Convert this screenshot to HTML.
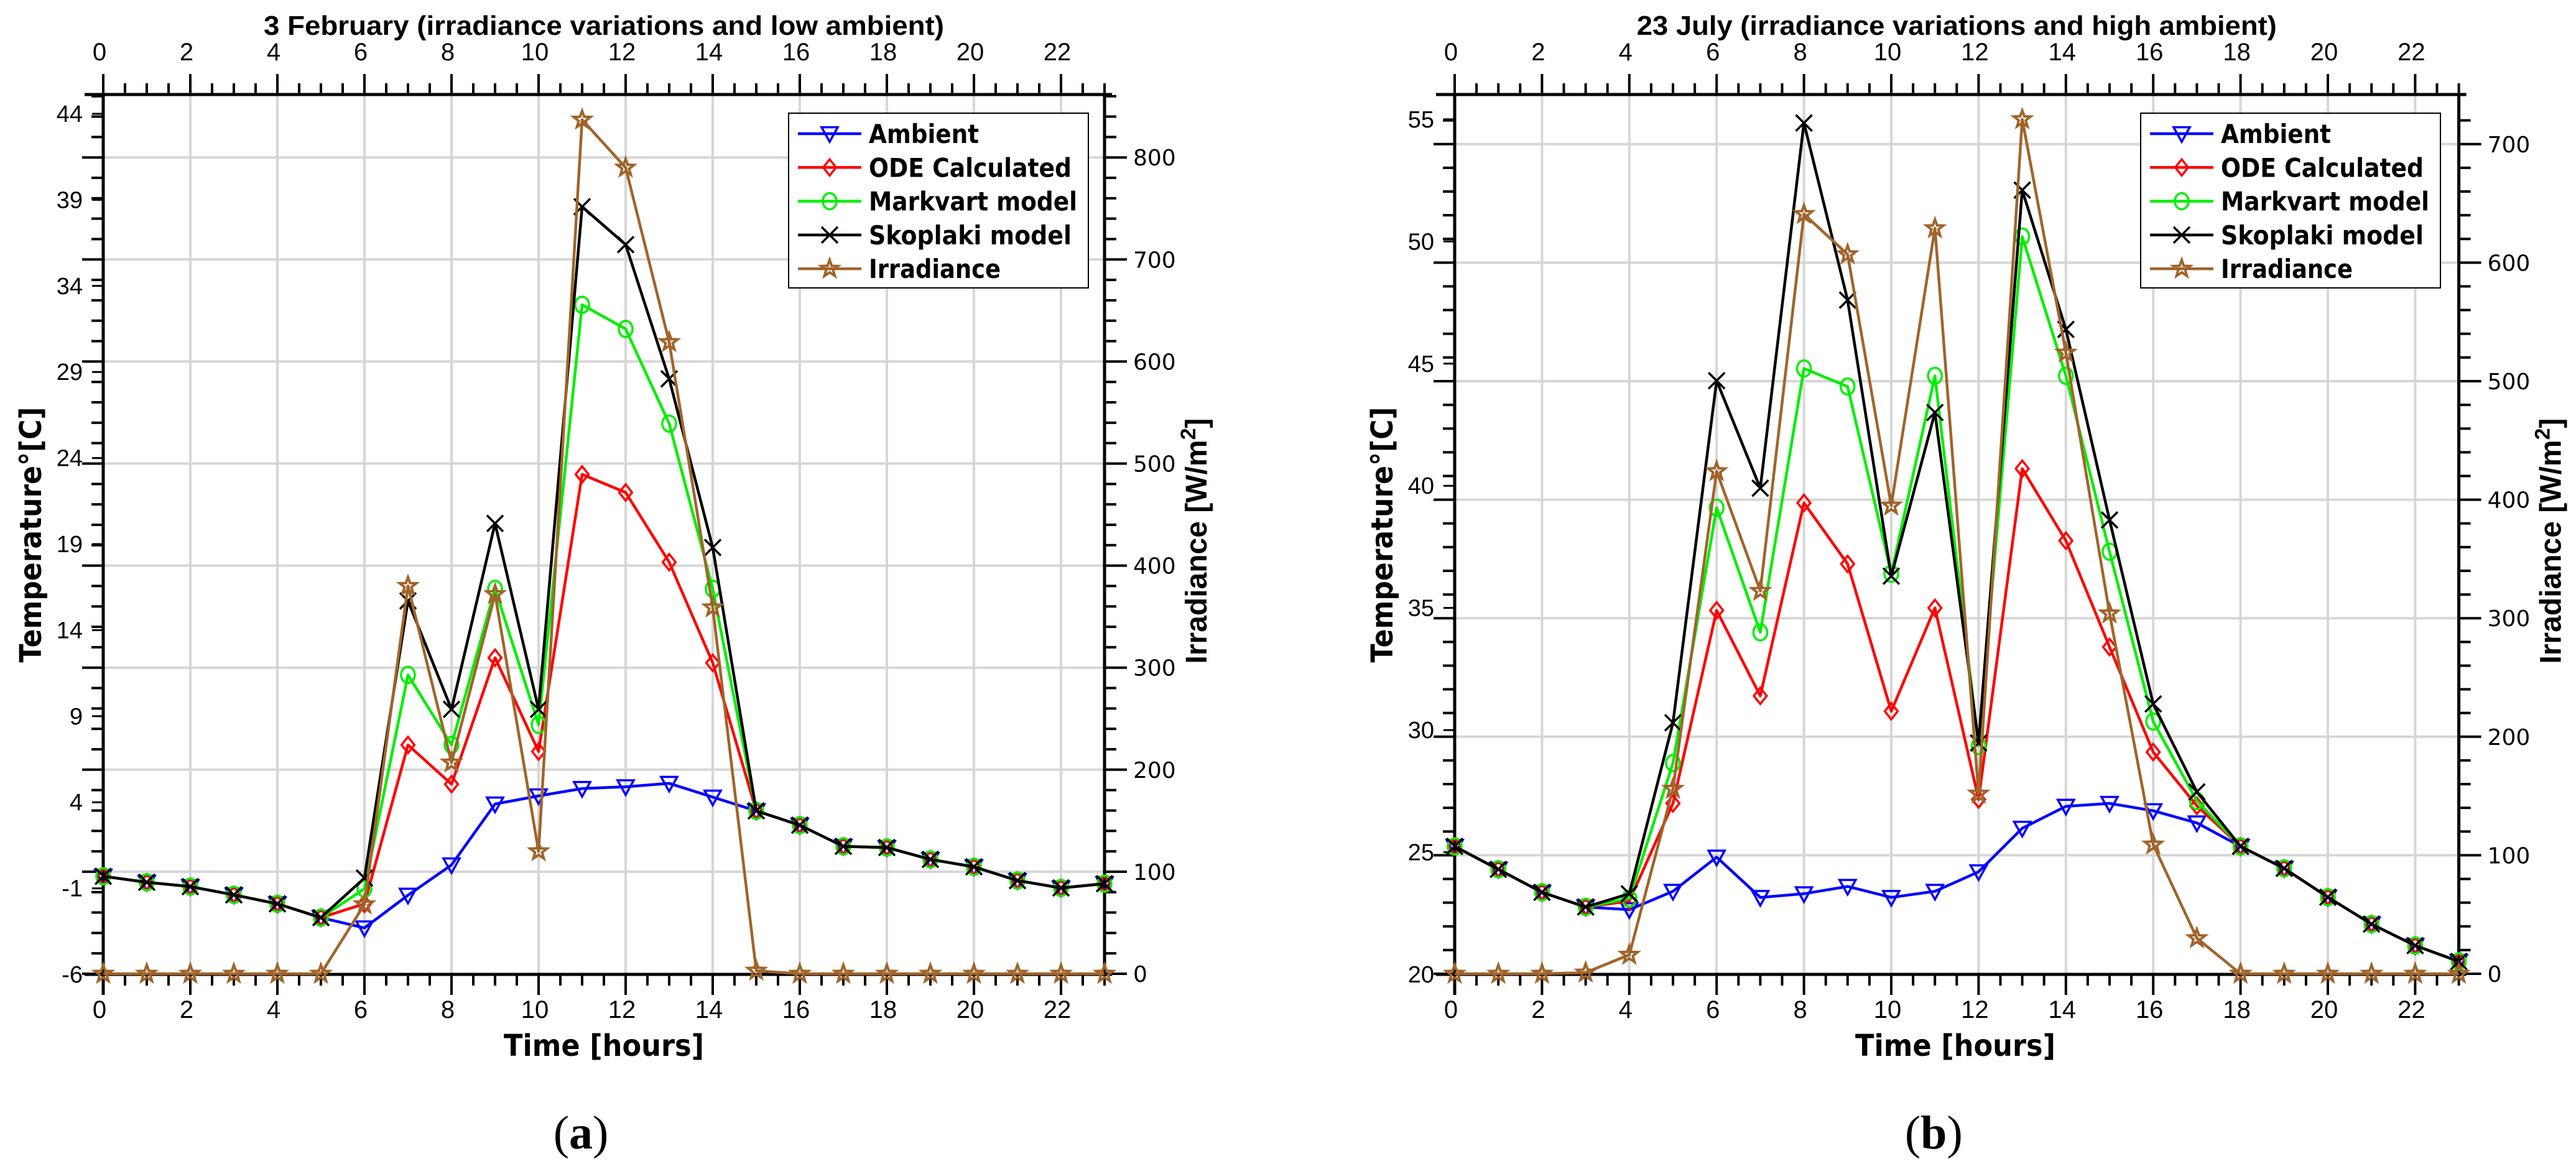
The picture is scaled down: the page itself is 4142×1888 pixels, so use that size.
<!DOCTYPE html>
<html><head><meta charset="utf-8"><style>
html,body{margin:0;padding:0;background:#fff;}
svg{display:block;}
</style></head><body>
<svg id="fig" width="4142" height="1888" viewBox="0 0 4142 1888" xmlns="http://www.w3.org/2000/svg" font-family="Liberation Sans, sans-serif">
<rect width="4142" height="1888" fill="#fff"/>
</svg>
<script>
// ---- Data: panel (a) 3 February ----
const hours = [0,1,2,3,4,5,6,7,8,9,10,11,12,13,14,15,16,17,18,19,20,21,22,23];
const aAmbient = [-0.3,-0.65,-0.9,-1.38,-1.9,-2.7,-3.3,-1.4,0.36,3.9,4.37,4.8,4.9,5.1,4.3,3.5,2.67,1.44,1.37,0.68,0.25,-0.55,-0.98,-0.73];
const aODE = [-0.3,-0.65,-0.9,-1.38,-1.9,-2.7,-1.9,7.33,5.05,12.4,6.95,23.05,22.0,17.95,12.1,3.5,2.67,1.44,1.37,0.68,0.25,-0.55,-0.98,-0.73];
const aMarkvart = [-0.3,-0.65,-0.9,-1.38,-1.9,-2.7,-1.03,11.4,7.33,16.4,8.5,32.9,31.5,26.0,16.4,3.5,2.67,1.44,1.37,0.68,0.25,-0.55,-0.98,-0.73];
const aSkoplaki = [-0.3,-0.65,-0.9,-1.38,-1.9,-2.7,-0.4,15.7,9.4,20.2,9.4,38.6,36.4,28.6,18.8,3.5,2.67,1.44,1.37,0.68,0.25,-0.55,-0.98,-0.73];
const aIrradiance = [0,0,0,0,0,0,68,380,207,372,120,837,790,619,359,3,0,0,0,0,0,0,0,0];
// ---- Data: panel (b) 23 July ----
const bAmbient = [25.24,24.3,23.36,22.76,22.65,23.4,24.8,23.15,23.3,23.6,23.15,23.4,24.2,25.98,26.88,27.0,26.7,26.2,25.24,24.34,23.16,22.06,21.18,20.53];
const bODE = [25.24,24.3,23.36,22.76,23.0,27.0,34.9,31.4,39.3,36.8,30.77,35.0,27.16,40.7,37.75,33.4,29.1,26.9,25.24,24.34,23.16,22.06,21.18,20.53];
const bMarkvart = [25.24,24.3,23.36,22.76,23.1,28.65,39.1,34.0,44.8,44.06,36.4,44.5,29.35,50.2,44.5,37.3,30.35,27.1,25.24,24.34,23.16,22.06,21.18,20.53];
const bSkoplaki = [25.24,24.3,23.36,22.76,23.3,30.3,44.3,39.9,54.85,47.6,36.3,43.0,29.47,52.1,46.4,38.6,31.07,27.47,25.24,24.34,23.16,22.06,21.18,20.53];
const bIrradiance = [0,0,0,1,16,156,424,323,641,607,395,629,152,721,524,304,109,30,0,0,0,0,0,0];
// ---- Tick labels ----
const xTickLabels = ["0","2","4","6","8","10","12","14","16","18","20","22"];
const aTempTicks = [-6,-1,4,9,14,19,24,29,34,39,44];
const bTempTicks = [20,25,30,35,40,45,50,55];
const aIrrTicks = [0,100,200,300,400,500,600,700,800];
const bIrrTicks = [0,100,200,300,400,500,600,700];
const legendLabels = ["Ambient","ODE Calculated","Markvart model","Skoplaki model","Irradiance"];

const NS = "http://www.w3.org/2000/svg";
const svg = document.getElementById('fig');
function mk(tag, attrs, parent){
  const e = document.createElementNS(NS, tag);
  for (const k in attrs) e.setAttribute(k, attrs[k]);
  (parent||svg).appendChild(e);
  return e;
}
function txt(s, attrs, parent){ const t = mk('text', attrs, parent); t.textContent = s; return t; }

const COLORS = {amb:'#0000ff', ode:'#ff0000', mark:'#00ee00', skop:'#000000', irr:'#a0642a'};
const NARROW = 'Liberation Sans Narrow, Liberation Sans, sans-serif';

function marker(g, kind, x, y, color){
  const r = 13;
  let m;
  if (kind==='tri') m = mk('polygon',{points:`${x-r},${y-r*0.8} ${x+r},${y-r*0.8} ${x},${y+r}`,fill:'none',stroke:color,'stroke-width':3.5},g);
  else if (kind==='dia') m = mk('polygon',{points:`${x},${y-r} ${x+r*0.8},${y} ${x},${y+r} ${x-r*0.8},${y}`,fill:'none',stroke:color,'stroke-width':3.5},g);
  else if (kind==='circ') m = mk('ellipse',{cx:x,cy:y,rx:r*0.85,ry:r,fill:'none',stroke:color,'stroke-width':3.5},g);
  else if (kind==='x') m = mk('path',{d:`M${x-r},${y-r}L${x+r},${y+r}M${x+r},${y-r}L${x-r},${y+r}`,stroke:color,'stroke-width':3.5,fill:'none'},g);
  else {
    let p=[]; for(let i=0;i<10;i++){const a=-Math.PI/2+i*Math.PI/5; const rr=i%2?r*0.45:r*1.1; p.push((x+rr*Math.cos(a)).toFixed(1)+','+(y+rr*Math.sin(a)).toFixed(1));}
    m = mk('polygon',{points:p.join(' '),fill:'none',stroke:color,'stroke-width':4},g);
  }
  
  
}

function panel(cfg){
  const P = cfg;
  const g = mk('g',{});
  
  
  const xOf = h => P.x0 + h*P.hw;
  const yT = t => P.yBot - (t - P.tMin)*P.tScale;
  const yI = v => 1566 - v*P.iScale;
  const top = 152, bot = 1567, right = xOf(23);
  const grid = mk('g',{},g);
  
  
  for (let h=2; h<=22; h+=2) mk('line',{x1:xOf(h),y1:top,x2:xOf(h),y2:bot,stroke:'#d6d6d6','stroke-width':4},grid);
  P.irrTicks.forEach(v=>{ if(v>0) mk('line',{x1:P.x0,y1:yI(v),x2:right,y2:yI(v),stroke:'#d6d6d6','stroke-width':4},grid); });
  const ax = mk('g',{stroke:'#000','stroke-width':5},g);
  
  
  mk('line',{x1:P.x0-30,y1:top,x2:right+12,y2:top},ax);
  mk('line',{x1:P.x0-30,y1:bot,x2:right+12,y2:bot},ax);
  mk('line',{x1:P.x0,y1:top,x2:P.x0,y2:bot+33},ax);
  mk('line',{x1:right,y1:top,x2:right,y2:bot},ax);
  for (let k=0; k<=46; k++){
    const h=k/2, x=xOf(h), major=(k%4===0);
    if (h>23.01) break;
    mk('line',{x1:x,y1:top,x2:x,y2:top-(major?33:18),'stroke-width':4},ax);
    mk('line',{x1:x,y1:bot,x2:x,y2:bot+(major?33:18),'stroke-width':4},ax);
  }
  xTickLabels.forEach((s,i)=>{
    const x=xOf(i*2);
    const t1=txt(s,{x:x-6,y:97,'font-size':40,'text-anchor':'middle','font-family':NARROW},g);
     
    const t2=txt(s,{x:x-6,y:1637,'font-size':40,'text-anchor':'middle','font-family':NARROW},g);
     
  });
  for (let v=0; v<=P.irrMax; v+=20){
    const y=yI(v), major=(v%100===0);
    mk('line',{x1:right,y1:y,x2:right+(major?36:19),y2:y,'stroke-width':4},ax);
    mk('line',{x1:P.x0,y1:y,x2:P.x0-(major?34:19),y2:y,'stroke-width':4},ax);
  }
  P.irrTicks.forEach(v=>{
    const t=txt(String(v),{x:right+46,y:yI(v)+13,'font-size':36,'font-family':P.rightFont},g);
     
  });
  P.tempTicks.forEach(v=>{
    const y=yT(v);
    mk('line',{x1:P.x0,y1:y,x2:P.x0-18,y2:y,'stroke-width':3},ax);
    const t=txt(String(v),{x:P.x0-33,y:y+13,'font-size':38,'text-anchor':'end','font-family':P.leftFont},g);
     
  });
  const series = [
    {n:'ambient-series', d:P.amb, c:COLORS.amb, m:'tri', irr:false},
    {n:'ode-calculated-series', d:P.ode, c:COLORS.ode, m:'dia', irr:false},
    {n:'markvart-series', d:P.mark, c:COLORS.mark, m:'circ', irr:false},
    {n:'skoplaki-series', d:P.skop, c:COLORS.skop, m:'x', irr:false},
    {n:'irradiance-series', d:P.irr, c:COLORS.irr, m:'star', irr:true}
  ];
  series.forEach(s=>{
    const sg = mk('g',{},g);
    
    
    const pts = s.d.map((v,i)=>[xOf(hours[i]), s.irr?yI(v):yT(v)]);
    const pl = mk('polyline',{points:pts.map(p=>p[0].toFixed(1)+','+p[1].toFixed(1)).join(' '),fill:'none',stroke:s.c,'stroke-width':4.5,'stroke-linejoin':'round'},sg);
    
    
    pts.forEach(p=>marker(sg,s.m,p[0],p[1],s.c));
  });
  const lg = mk('g',{},g);
  
  
  mk('rect',{x:P.lx,y:182,width:482,height:281,fill:'#fff',stroke:'#000','stroke-width':2},lg);
  const widths=[177,326,335,326,212];
  series.forEach((s,i)=>{
    const y=215+i*54.3;
    const e = mk('g',{},lg);
    
    
    mk('line',{x1:P.lx+15,y1:y,x2:P.lx+117,y2:y,stroke:s.c,'stroke-width':4.5},e);
    marker(e,s.m,P.lx+66,y,s.c);
    txt(legendLabels[i],{x:P.lx+129,y:y+15,'font-size':42,'font-weight':'bold','font-family':'DejaVu Sans, sans-serif',textLength:widths[i],lengthAdjust:'spacingAndGlyphs'},e);
  });
  const cx = (P.x0+right)/2;
  const tt=txt(P.title,{x:cx,y:56,'font-size':44,'font-weight':'bold','text-anchor':'middle','font-family':NARROW,textLength:P.titleW,lengthAdjust:'spacingAndGlyphs'},g);
   
  const xl=txt('Time [hours]',{x:P.x0+644,y:1698,'font-size':48,'font-weight':'bold','font-family':'DejaVu Sans, sans-serif',textLength:322,lengthAdjust:'spacingAndGlyphs'},g);
   
  const yl=txt('Temperature°[C]',{x:0,y:0,'font-size':48,'font-weight':'bold','font-family':'DejaVu Sans, sans-serif','text-anchor':'middle',textLength:411,lengthAdjust:'spacingAndGlyphs',transform:`translate(${P.x0-100},860) rotate(-90)`},g);
   
  const yr=mk('text',{x:0,y:0,'font-size':48,'font-weight':'bold','text-anchor':'middle','font-family':NARROW,transform:`translate(${right+164},870) rotate(-90)`},g);
   
  yr.innerHTML = 'Irradiance [W/m<tspan dy="-18" font-size="34">2</tspan><tspan dy="18">]</tspan>';
  const pl=mk('text',{x:cx-37,y:1847,'font-size':76,'text-anchor':'middle','font-family':'Liberation Serif, serif'},g);
   
  pl.innerHTML = '(<tspan font-weight="bold">'+P.label.slice(1,2)+'</tspan>)';
}

panel({name:'panel-a-chart', x0:166, hw:70, yBot:1567, tMin:-6, tScale:27.68, iScale:1.641, irrMax:860,
  irrTicks:aIrrTicks, tempTicks:aTempTicks, amb:aAmbient, ode:aODE, mark:aMarkvart, skop:aSkoplaki, irr:aIrradiance,
  lx:1268, title:'3 February (irradiance variations and low ambient)', titleW:1094, label:'(a)',
  leftFont:'Liberation Sans, sans-serif', rightFont:'DejaVu Sans, sans-serif'});
panel({name:'panel-b-chart', x0:2339, hw:70.2, yBot:1567, tMin:20, tScale:39.29, iScale:1.906, irrMax:720,
  irrTicks:bIrrTicks, tempTicks:bTempTicks, amb:bAmbient, ode:bODE, mark:bMarkvart, skop:bSkoplaki, irr:bIrradiance,
  lx:3442, title:'23 July (irradiance variations and high ambient)', titleW:1029, label:'(b)',
  leftFont:NARROW, rightFont:'DejaVu Sans, sans-serif'});
</script>
</body></html>
